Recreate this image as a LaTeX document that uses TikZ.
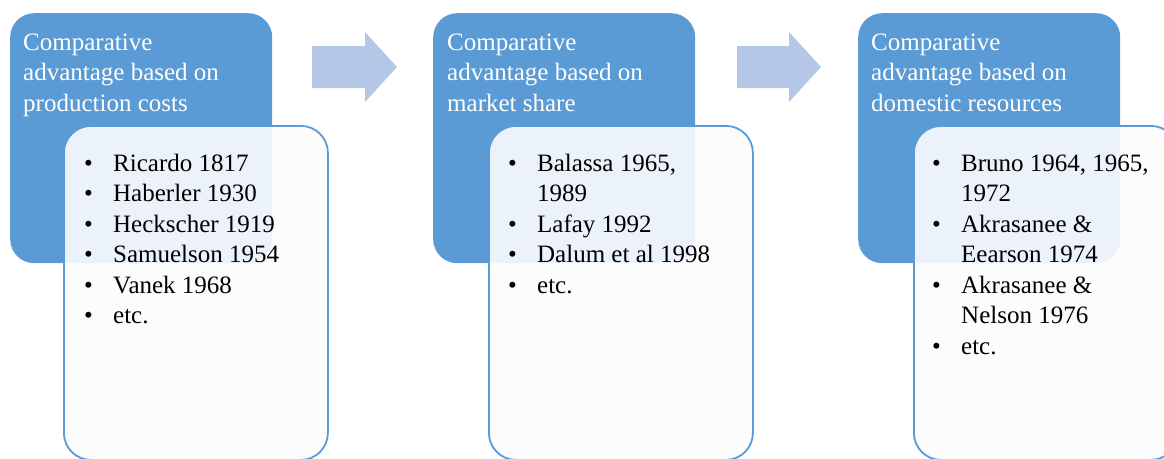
\documentclass[tikz,border=0pt]{standalone}
\usepackage{fontspec}
\setmainfont{Liberation Serif}
\usetikzlibrary{positioning}
\definecolor{headblue}{HTML}{5B9BD5}
\definecolor{arrowblue}{HTML}{B4C7E7}
\definecolor{listline}{HTML}{5B9BD5}
\definecolor{listfill}{HTML}{FCFCFD}

\newcommand{\boxfont}{\fontsize{25}{30.5}\selectfont}

\begin{document}
\begin{tikzpicture}[x=1pt,y=1pt,
  head/.style={rectangle,rounded corners=24pt,fill=headblue,minimum width=262pt,minimum height=250pt,anchor=north west,inner sep=0pt},
  list/.style={rectangle,rounded corners=27pt,draw=listline,line width=1.8pt,fill=listfill,fill opacity=0.9,minimum width=264pt,minimum height=334pt,anchor=north west,inner sep=0pt},
  headtext/.style={text=white,anchor=base west,inner sep=0pt,font=\boxfont},
  listtext/.style={anchor=base west,inner sep=0pt,font=\boxfont}]

\useasboundingbox (0,0) rectangle (1164,-458);
\clip (0,0) rectangle (1164,-458);

% blue heads
\node[head] (cost) at (10,-13) {};
\node[head] (share) at (433,-13) {};
\node[head] (domestic) at (858,-13) {};

% block arrows
\fill[arrowblue] (312,-46) -- (365,-46) -- (365,-32) -- (397,-67) -- (365,-102) -- (365,-88) -- (312,-88) -- cycle;
\fill[arrowblue] (737,-46) -- (789,-46) -- (789,-32) -- (821,-67) -- (789,-102) -- (789,-88) -- (737,-88) -- cycle;

\node[headtext] (costtitle) at (23,-50) {\begin{tabular}[t]{@{}l@{}}Comparative\\advantage based on\\production costs\end{tabular}};
\node[headtext] (sharetitle) at (447,-50) {\begin{tabular}[t]{@{}l@{}}Comparative\\advantage based on\\market share\end{tabular}};
\node[headtext] (domestictitle) at (871,-50) {\begin{tabular}[t]{@{}l@{}}Comparative\\advantage based on\\domestic resources\end{tabular}};

% white lists
\node[list] (costlist) at (63,-125) {};
\node[list] (sharelist) at (488,-125) {};
\node[list] (domesticlist) at (913,-125) {};

\node[listtext] (costitems) at (84,-171) {\begin{tabular}[t]{@{}p{29pt}@{}l@{}}
\textbullet & Ricardo 1817\\
\textbullet & Haberler 1930\\
\textbullet & Heckscher 1919\\
\textbullet & Samuelson 1954\\
\textbullet & Vanek 1968\\
\textbullet & etc.
\end{tabular}};

\node[listtext] (shareitems) at (508,-171) {\begin{tabular}[t]{@{}p{29pt}@{}l@{}}
\textbullet & Balassa 1965,\\
 & 1989\\
\textbullet & Lafay 1992\\
\textbullet & Dalum et al 1998\\
\textbullet & etc.
\end{tabular}};

\node[listtext] (domesticitems) at (932,-171) {\begin{tabular}[t]{@{}p{29pt}@{}l@{}}
\textbullet & Bruno 1964, 1965,\\
 & 1972\\
\textbullet & Akrasanee \&\\
 & Eearson 1974\\
\textbullet & Akrasanee \&\\
 & Nelson 1976\\
\textbullet & etc.
\end{tabular}};

\end{tikzpicture}
\end{document}
